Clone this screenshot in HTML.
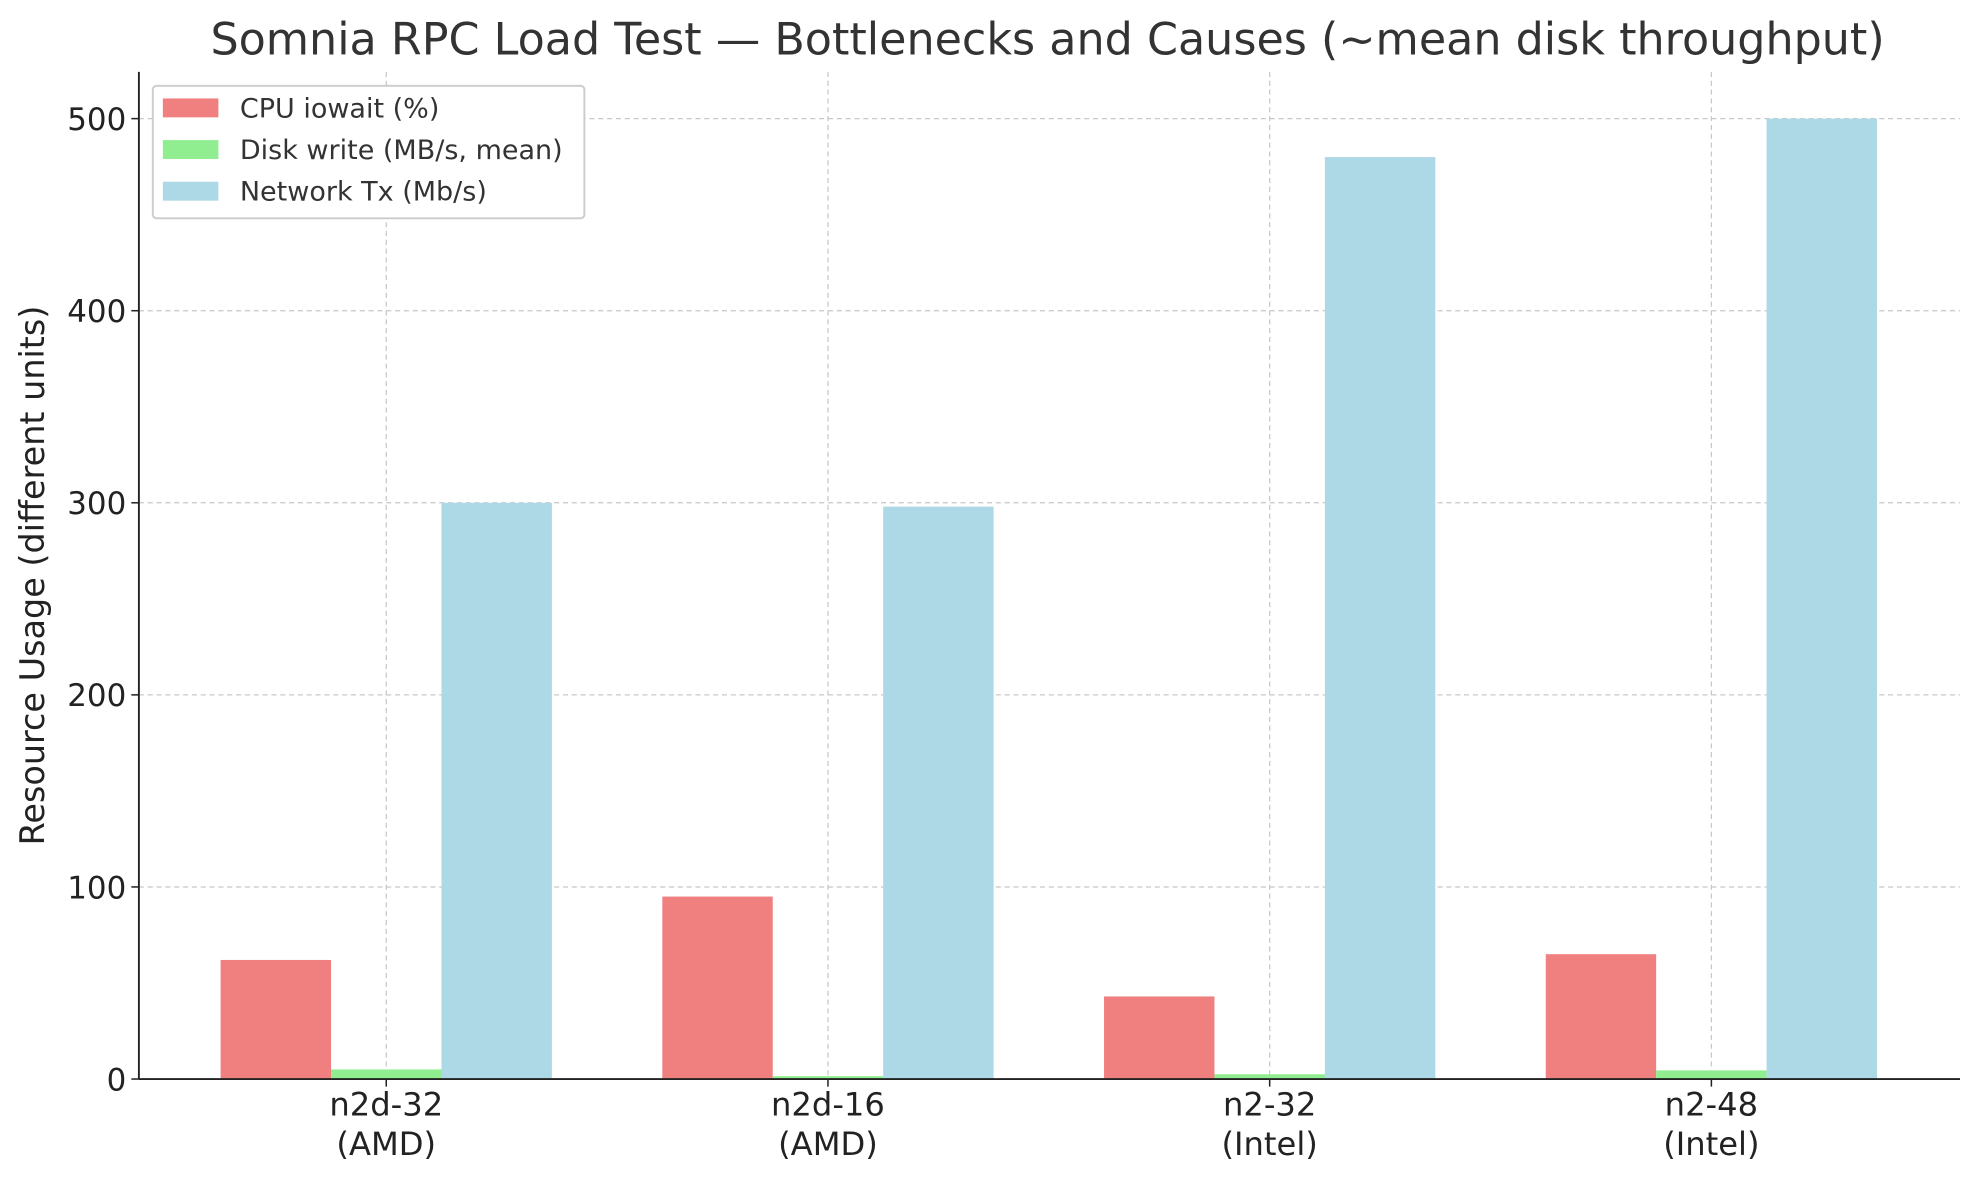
<!DOCTYPE html>
<html><head><meta charset="utf-8"><style>
html,body{margin:0;padding:0;background:#fff;}
svg{display:block;font-family:"DejaVu Sans","Liberation Sans",sans-serif;}
</style></head><body>
<svg id="chart" width="1979" height="1180" viewBox="0 0 1568 935" xmlns="http://www.w3.org/2000/svg">
<rect width="1568" height="935" fill="#fff"/>
<text x="830" y="43" font-size="35.2" text-anchor="middle" fill="#333">Somnia RPC Load Test — Bottlenecks and Causes (~mean disk throughput)</text>
<g id="grid"></g>
<g id="bars"></g>
<g id="axes"></g>
<text transform="translate(35,456) rotate(-90)" font-size="26.5" text-anchor="middle" fill="#222">Resource Usage (different units)</text>
<g>
<rect x="121" y="68" width="342" height="105" rx="3" fill="#fff" stroke="#ccc" stroke-width="1.5"/>
<g><rect x="129" y="78" width="44" height="15" fill="#f08080"/><text x="190" y="93" font-size="21.4" fill="#333">CPU iowait (%)</text></g>
<g><rect x="129" y="111" width="44" height="15" fill="#90ee90"/><text x="190" y="126" font-size="21.4" fill="#333">Disk write (MB/s, mean)</text></g>
<g><rect x="129" y="144" width="44" height="15" fill="#add8e6"/><text x="190" y="159" font-size="21.4" fill="#333">Network Tx (Mb/s)</text></g>
</g>
</svg>
<script>
const categories = ["n2d-32|(AMD)", "n2d-16|(AMD)", "n2-32|(Intel)", "n2-48|(Intel)"];
const cpuIowait = [62, 95, 43, 65];
const diskWrite = [5, 1.5, 2.5, 4.5];
const networkTx = [300, 298, 480, 500];
const yTicks = [0, 100, 200, 300, 400, 500];

const NS = "http://www.w3.org/2000/svg";
const L = 110, R = 1553, T = 57, B = 855;
const yScale = v => B - v * (855 - 94) / 500;
const xCenter = i => 306 + i * 350;
const bw = 87.5;
function mk(tag, attrs, parent) {
  const e = document.createElementNS(NS, tag);
  for (const k in attrs) e.setAttribute(k, attrs[k]);
  parent.appendChild(e);
  return e;
}
const grid = document.getElementById('grid');
const bars = document.getElementById('bars');
const axes = document.getElementById('axes');
yTicks.forEach(t => {
  const y = yScale(t);
  if (t > 0) {
    const gl = mk('line', {x1: L, x2: R, y1: y, y2: y, stroke: '#c8c8c8', 'stroke-dasharray': '4,3', 'stroke-width': 1}, grid);
    
    
  }
  mk('line', {x1: L - 6, x2: L, y1: y, y2: y, stroke: '#222', 'stroke-width': 1.2}, axes);
  const tx = mk('text', {x: L - 10, y: y + 9, 'font-size': 24.5, 'text-anchor': 'end', fill: '#222'}, axes);
  tx.textContent = t;
  
  
});
const series = [[cpuIowait, '#f08080', 'bar-cpu'], [diskWrite, '#90ee90', 'bar-disk'], [networkTx, '#add8e6', 'bar-network']];
categories.forEach((c, i) => {
  const cx = xCenter(i);
  const gl = mk('line', {x1: cx, x2: cx, y1: T, y2: B, stroke: '#c8c8c8', 'stroke-dasharray': '4,3', 'stroke-width': 1}, grid);
  
  
  series.forEach((s, j) => {
    const v = s[0][i];
    const x = cx - 1.5 * bw + j * bw;
    const r = mk('rect', {x: x, y: yScale(v), width: bw, height: B - yScale(v), fill: s[1]}, bars);
    
    
  });
  mk('line', {x1: cx, x2: cx, y1: B, y2: B + 6, stroke: '#222', 'stroke-width': 1.2}, axes);
  const parts = c.split('|');
  parts.forEach((p, k) => {
    const tx = mk('text', {x: cx, y: 884 + k * 31, 'font-size': 25.5, 'text-anchor': 'middle', fill: '#222'}, axes);
    tx.textContent = p;
    
    
  });
});
const ax1 = mk('line', {x1: L, x2: L, y1: T, y2: B, stroke: '#222', 'stroke-width': 1.5}, axes);


const ax2 = mk('line', {x1: L, x2: R, y1: B, y2: B, stroke: '#222', 'stroke-width': 1.5}, axes);


</script>
</body></html>
